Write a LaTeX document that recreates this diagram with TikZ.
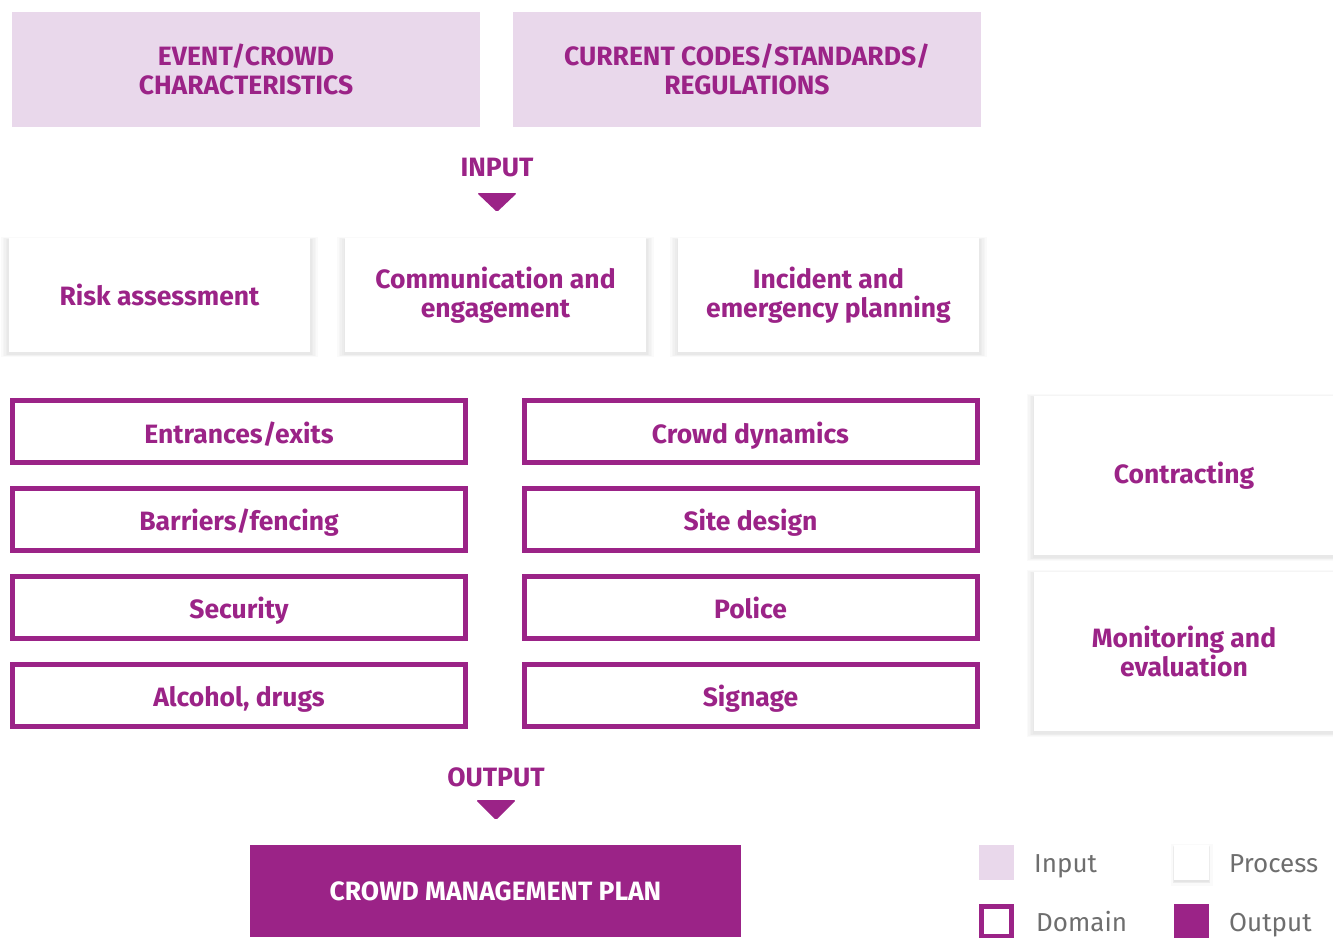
\documentclass[tikz,border=0pt]{standalone}
\usepackage{fontspec}
\setmainfont{Fira Sans}
\usetikzlibrary{shadows}

\definecolor{plum}{HTML}{9B2387}
\definecolor{lilac}{HTML}{E9D8EB}
\definecolor{keygray}{HTML}{6E6E6E}

\begin{document}
\begin{tikzpicture}[ x=1pt, y=-1pt,
        label/.style={ text=plum, font=\bfseries\fontsize{26.5}{29.5}\selectfont,
          inner sep=0pt },
        inputbox/.style={ label, align=center, fill=lilac, minimum width=468pt,
          minimum height=115pt },
        softshadow/.style={ shadow xshift=0pt, shadow yshift=-2pt,
          shadow scale=#1, opacity=.04 },
        processbox/.style={ label, align=center, fill=white,
          drop shadow={softshadow=1.05}, drop shadow={softshadow=1.04},
          drop shadow={softshadow=1.03}, drop shadow={softshadow=1.02},
          drop shadow={softshadow=1.01} },
        domainbox/.style={ label, draw=plum, line width=5pt, fill=white,
          minimum width=453pt, minimum height=62pt,
          text height=29pt, text depth=6pt },
        outputbox/.style={ label, fill=plum, text=white,
          minimum width=491pt, minimum height=92pt },
        keybox/.style={ minimum size=35pt, inner sep=0pt },
        keytext/.style={ text=keygray, anchor=base west, inner sep=0pt,
          font=\fontsize{26}{28}\selectfont } ]
  \useasboundingbox (0,0) rectangle (1333,937);

  % input
  \node[inputbox] (in1) at (246,69.5) {EVENT/CROWD\\CHARACTERISTICS};
  \node[inputbox] (in2) at (747,69.5) {CURRENT CODES/STANDARDS/\\REGULATIONS};
  \node[label] (inlabel) at (497,168) {INPUT};
  \fill[plum, rounded corners=1.5pt] (477,193) -- (517,193) -- (497,212) -- cycle;

  % process
  \foreach \x/\n/\t in {159.5/1/Risk assessment,
      495.5/2/Communication and\\engagement,
      828.5/3/Incident and\\emergency planning}
    \node[processbox, minimum width=301pt, minimum height=114pt] (proc\n)
      at (\x,295) {\t};

  % domains
  \foreach \y/\n/\t in {431.5/1/{Entrances/exits},519/2/{Barriers/fencing},
      607/3/Security,695/4/{Alcohol, drugs}}
    \node[domainbox] (dl\n) at (239,\y) {\t};
  \foreach \y/\n/\t in {431.5/1/Crowd dynamics,519/2/Site design,
      607/3/Police,695/4/Signage}
    \node[domainbox] (dr\n) at (750.5,\y) {\t};

  \node[processbox, minimum width=300pt, minimum height=159pt] (side1)
    at (1184,475.5) {Contracting};
  \node[processbox, minimum width=300pt, minimum height=159pt] (side2)
    at (1184,651.5) {Monitoring and\\evaluation};

  % output
  \node[label] (outlabel) at (496,777) {OUTPUT};
  \fill[plum, rounded corners=1.5pt] (476,800) -- (516,800) -- (496,820) -- cycle;
  \node[outputbox] (plan) at (495.5,891) {CROWD MANAGEMENT PLAN};

  % key
  \node[keybox, fill=lilac] (kin) at (996.5,862.5) {};
  \node[keytext] at (1034,872.5) {Input};
  \node[keybox, processbox, drop shadow={softshadow=1.2}] (kproc) at (1191.5,862.5) {};
  \node[keytext] at (1229,872.5) {Process};
  \node[keybox, draw=plum, line width=5pt, minimum size=30pt] (kdom)
    at (996.5,921) {};
  \node[keytext] at (1036,931) {Domain};
  \node[keybox, fill=plum] (kout) at (1191.5,921) {};
  \node[keytext] at (1229,931) {Output};
\end{tikzpicture}
\end{document}
